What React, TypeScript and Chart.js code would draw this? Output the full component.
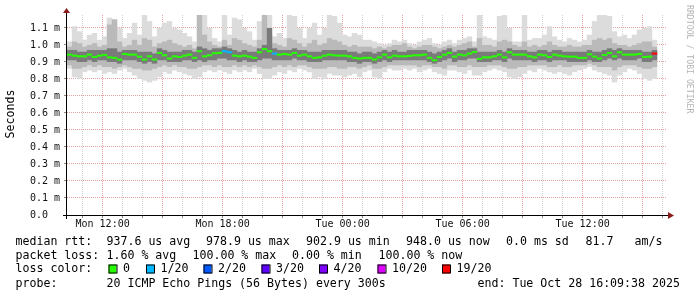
import React, { useEffect, useRef } from 'react';
import { Chart, registerables } from 'chart.js';

Chart.register(...registerables);

// ---- time axis (hours counted from Mon 00:00) ----
const START_HOUR = 10.22;
const SPAN_HOURS = 30;
const STEP_HOURS = 0.25;
const GRID_HOURS = [11, 12, 13, 14, 15, 16, 17, 18, 19, 20, 21, 22, 23, 24, 25, 26, 27, 28, 29, 30, 31, 32, 33, 34, 35, 36, 37, 38, 39, 40];
const X_LABEL_HOURS = [12, 18, 24, 30, 36];
const X_TICK_LABELS = ['Mon 12:00', 'Mon 18:00', 'Tue 00:00', 'Tue 06:00', 'Tue 12:00'];

// ---- value axis (milliseconds) ----
const Y_MAX = 1.176;
const Y_TICKS = [0, 0.1, 0.2, 0.3, 0.4, 0.5, 0.6, 0.7, 0.8, 0.9, 1.0, 1.1];

// ---- median rtt (ms), one value per 15 minutes ----
const MEDIAN = [
  0.943, 0.937, 0.933, 0.933, 0.943, 0.929, 0.937, 0.941, 0.927, 0.924, 0.914, 0.947, 0.943, 0.943, 0.931, 0.914, 0.933, 0.914, 0.953, 0.939,
  0.920, 0.933, 0.929, 0.937, 0.943, 0.924, 0.963, 0.933, 0.939, 0.951,
  0.953, 0.963, 0.957, 0.937, 0.933, 0.937, 0.931, 0.924, 0.957, 0.976, 0.963, 0.949, 0.943, 0.947, 0.943, 0.953, 0.937, 0.943, 0.933, 0.924,
  0.927, 0.937, 0.943, 0.939, 0.937, 0.937, 0.933, 0.924, 0.920, 0.924,
  0.924, 0.914, 0.927, 0.943, 0.927, 0.937, 0.933, 0.933, 0.935, 0.939, 0.939, 0.943, 0.924, 0.910, 0.929, 0.943, 0.953, 0.931, 0.943, 0.939,
  0.949, 0.959, 0.918, 0.927, 0.927, 0.933, 0.943, 0.927, 0.957, 0.943,
  0.943, 0.943, 0.933, 0.927, 0.943, 0.939, 0.929, 0.943, 0.937, 0.933, 0.931, 0.931, 0.924, 0.924, 0.945, 0.931, 0.920, 0.941, 0.953, 0.933,
  0.957, 0.943, 0.943, 0.943, 0.947, 0.929, 0.931, 0.949,
];

// [step index, lost pings out of 20]
const LOSS = [[31, 1], [32, 1], [41, 1], [117, 20]];

// ---- smoke (ms) ----
const OUTER_HI = [
  1.02, 1.11, 1.08, 1.03, 1.06, 1.07, 1.03, 1.05, 1.16, 1.15, 1.10, 1.04, 1.07, 1.13, 1.06, 1.18, 1.14, 1.05, 1.10, 1.13,
  1.14, 1.10, 1.09, 1.07, 1.05, 1.02, 1.18, 1.18, 1.10, 1.04,
  1.02, 1.18, 1.06, 1.16, 1.15, 1.10, 1.08, 1.03, 1.14, 1.18, 1.18, 1.05, 1.07, 1.04, 1.18, 1.17, 1.10, 1.04, 1.10, 1.13,
  1.06, 1.10, 1.18, 1.17, 1.13, 1.06, 1.05, 1.07, 1.06, 1.03,
  1.03, 1.02, 1.01, 1.00, 1.01, 1.03, 1.02, 1.03, 1.01, 1.00, 1.02, 1.03, 1.04, 1.01, 1.00, 1.02, 1.03, 1.01, 1.03, 1.04,
  1.05, 1.02, 1.18, 1.05, 1.04, 1.03, 1.17, 1.18, 1.10, 1.02,
  1.02, 1.18, 1.03, 1.04, 1.04, 1.06, 1.11, 1.05, 1.03, 1.02, 1.04, 1.03, 1.02, 1.03, 1.06, 1.14, 1.18, 1.18, 1.17, 1.08,
  1.05, 1.06, 1.04, 1.06, 1.09, 1.10, 1.11, 1.03,
];
const OUTER_LO = [
  0.86, 0.81, 0.80, 0.84, 0.85, 0.84, 0.85, 0.83, 0.84, 0.83, 0.85, 0.86, 0.84, 0.82, 0.80, 0.79, 0.78, 0.79, 0.81, 0.84,
  0.83, 0.85, 0.84, 0.83, 0.82, 0.80, 0.81, 0.84, 0.85, 0.84,
  0.85, 0.84, 0.83, 0.85, 0.84, 0.85, 0.84, 0.86, 0.83, 0.80, 0.80, 0.82, 0.84, 0.83, 0.85, 0.84, 0.86, 0.85, 0.84, 0.80,
  0.81, 0.80, 0.83, 0.82, 0.82, 0.81, 0.82, 0.83, 0.81, 0.84,
  0.85, 0.81, 0.80, 0.84, 0.86, 0.85, 0.85, 0.86, 0.85, 0.86, 0.84, 0.85, 0.86, 0.84, 0.83, 0.82, 0.85, 0.85, 0.84, 0.83,
  0.85, 0.82, 0.82, 0.84, 0.85, 0.86, 0.85, 0.84, 0.81, 0.80,
  0.81, 0.83, 0.85, 0.84, 0.86, 0.85, 0.84, 0.83, 0.84, 0.83, 0.82, 0.84, 0.85, 0.86, 0.87, 0.85, 0.84, 0.83, 0.82, 0.78,
  0.82, 0.84, 0.86, 0.85, 0.83, 0.80, 0.79, 0.80,
];
const MID_HI = [
  0.99, 1.02, 1.01, 0.99, 1.00, 1.01, 0.99, 1.00, 1.12, 1.15, 1.02, 0.99, 1.00, 1.03, 1.00, 1.04, 1.03, 0.99, 1.01, 1.02,
  1.03, 1.01, 1.00, 0.99, 1.00, 0.98, 1.18, 1.06, 1.02, 1.00,
  0.99, 1.03, 1.00, 1.04, 1.03, 1.01, 1.00, 0.99, 1.03, 1.18, 1.06, 1.01, 1.00, 0.99, 1.04, 1.03, 1.01, 0.99, 1.01, 1.03,
  1.00, 1.01, 1.04, 1.03, 1.02, 1.00, 0.99, 1.00, 0.99, 0.99,
  0.99, 0.98, 0.99, 0.98, 0.99, 1.00, 1.00, 1.01, 0.99, 0.98, 0.99, 1.00, 1.00, 0.99, 0.98, 0.99, 1.00, 0.99, 1.00, 1.01,
  1.02, 0.99, 1.04, 1.00, 1.00, 0.99, 1.02, 1.03, 1.02, 1.00,
  0.99, 1.02, 0.99, 1.00, 0.99, 1.00, 1.02, 1.00, 0.99, 0.99, 1.00, 0.99, 0.99, 1.00, 1.00, 1.03, 1.04, 1.03, 1.04, 1.01,
  1.00, 1.00, 0.99, 1.00, 1.01, 1.02, 1.02, 0.99,
];
const MID_LO = [
  0.88, 0.86, 0.86, 0.87, 0.88, 0.87, 0.88, 0.87, 0.87, 0.86, 0.87, 0.88, 0.87, 0.86, 0.86, 0.85, 0.85, 0.86, 0.87, 0.88,
  0.87, 0.88, 0.87, 0.87, 0.86, 0.86, 0.87, 0.88, 0.88, 0.87,
  0.88, 0.87, 0.87, 0.88, 0.87, 0.88, 0.87, 0.88, 0.87, 0.86, 0.86, 0.87, 0.88, 0.87, 0.88, 0.87, 0.88, 0.88, 0.87, 0.86,
  0.86, 0.86, 0.87, 0.87, 0.86, 0.86, 0.87, 0.87, 0.86, 0.87,
  0.88, 0.86, 0.86, 0.87, 0.88, 0.88, 0.88, 0.88, 0.88, 0.88, 0.87, 0.88, 0.88, 0.87, 0.87, 0.86, 0.88, 0.88, 0.87, 0.87,
  0.88, 0.87, 0.87, 0.87, 0.88, 0.88, 0.88, 0.87, 0.86, 0.86,
  0.87, 0.87, 0.88, 0.88, 0.88, 0.88, 0.87, 0.87, 0.88, 0.87, 0.87, 0.88, 0.88, 0.88, 0.89, 0.88, 0.87, 0.87, 0.87, 0.85,
  0.87, 0.88, 0.88, 0.88, 0.87, 0.86, 0.86, 0.87,
];
const CORE_HI = [
  0.97, 0.97, 0.96, 0.96, 0.97, 0.97, 0.97, 0.97, 0.98, 0.98, 0.96, 0.97, 0.97, 0.97, 0.96, 0.96, 0.96, 0.95, 0.98, 0.97,
  0.96, 0.96, 0.96, 0.97, 0.97, 0.96, 0.99, 0.98, 0.97, 0.98,
  0.98, 0.99, 0.98, 0.97, 0.96, 0.97, 0.96, 0.96, 0.98, 1.00, 1.10, 0.98, 0.97, 0.97, 0.97, 0.98, 0.97, 0.97, 0.96, 0.96,
  0.96, 0.97, 0.97, 0.97, 0.97, 0.97, 0.96, 0.96, 0.95, 0.96,
  0.96, 0.95, 0.96, 0.97, 0.96, 0.97, 0.96, 0.96, 0.97, 0.97, 0.97, 0.97, 0.96, 0.95, 0.96, 0.97, 0.98, 0.96, 0.97, 0.97,
  0.98, 0.98, 0.96, 0.96, 0.96, 0.96, 0.97, 0.96, 0.98, 0.97,
  0.97, 0.97, 0.96, 0.96, 0.97, 0.97, 0.96, 0.97, 0.97, 0.96, 0.96, 0.96, 0.96, 0.96, 0.97, 0.96, 0.96, 0.97, 0.98, 0.97,
  0.98, 0.97, 0.97, 0.97, 0.97, 0.96, 0.96, 0.97,
];
const CORE_LO = [
  0.91, 0.91, 0.90, 0.90, 0.91, 0.90, 0.91, 0.91, 0.90, 0.90, 0.89, 0.91, 0.91, 0.91, 0.90, 0.89, 0.90, 0.89, 0.91, 0.91,
  0.90, 0.90, 0.90, 0.91, 0.91, 0.90, 0.91, 0.90, 0.91, 0.91,
  0.92, 0.92, 0.91, 0.91, 0.90, 0.91, 0.90, 0.90, 0.91, 0.92, 0.92, 0.91, 0.91, 0.91, 0.91, 0.92, 0.91, 0.91, 0.90, 0.90,
  0.90, 0.91, 0.91, 0.91, 0.91, 0.91, 0.90, 0.90, 0.89, 0.90,
  0.90, 0.89, 0.90, 0.91, 0.90, 0.91, 0.91, 0.91, 0.91, 0.91, 0.91, 0.91, 0.90, 0.89, 0.90, 0.91, 0.92, 0.90, 0.91, 0.91,
  0.92, 0.92, 0.90, 0.90, 0.90, 0.91, 0.91, 0.90, 0.92, 0.91,
  0.91, 0.91, 0.91, 0.90, 0.91, 0.91, 0.90, 0.91, 0.91, 0.91, 0.90, 0.90, 0.90, 0.90, 0.91, 0.90, 0.90, 0.91, 0.92, 0.91,
  0.92, 0.91, 0.91, 0.91, 0.92, 0.90, 0.90, 0.91,
];

// ---- legend ----
const LOSS_LEVELS = [0, 1, 2, 3, 4, 10, 19];
const LOSS_LABELS = ['0', '1/20', '2/20', '3/20', '4/20', '10/20', '19/20'];
const LOSS_COLORS = ['#26ff00', '#00b8ff', '#0059ff', '#5e00ff', '#7e00ff', '#dd00ff', '#ff0000'];
const RTT_STATS = ['937.6 us avg', '978.9 us max', '902.9 us min', '948.0 us now', '0.0 ms sd', '81.7', 'am/s'];
const LOSS_STATS = ['1.60 % avg', '100.00 % max', '0.00 % min', '100.00 % now'];
const PROBE_TEXT = '20 ICMP Echo Pings (56 Bytes) every 300s';
const END_TEXT = 'end: Tue Oct 28 16:09:38 2025';
const Y_TITLE = 'Seconds';
const WATERMARK = 'RRDTOOL / TOBI OETIKER';

const MONO = '"DejaVu Sans Mono", monospace';

function lossColor(lost: number): string {
  let c = LOSS_COLORS[0];
  LOSS_LEVELS.forEach((lv, k) => {
    if (lost >= lv) c = LOSS_COLORS[k];
  });
  return c;
}

function lossAt(i: number): number {
  const e = LOSS.find((p) => p[0] === i);
  return e ? e[1] : 0;
}

const extrasPlugin = {
  id: 'rrdExtras',
  afterDraw(chart: any) {
    const { ctx, chartArea: a } = chart;
    ctx.save();
    // axes
    ctx.strokeStyle = '#000';
    ctx.lineWidth = 1;
    ctx.beginPath();
    ctx.moveTo(a.left - 0.5, a.top - 3);
    ctx.lineTo(a.left - 0.5, a.bottom + 4);
    ctx.moveTo(a.left - 4, a.bottom + 0.5);
    ctx.lineTo(a.right + 3, a.bottom + 0.5);
    ctx.stroke();
    // arrows
    ctx.fillStyle = '#8b1c1c';
    ctx.beginPath();
    ctx.moveTo(a.left - 4, a.top - 2);
    ctx.lineTo(a.left + 3, a.top - 2);
    ctx.lineTo(a.left - 0.5, a.top - 7);
    ctx.closePath();
    ctx.fill();
    ctx.beginPath();
    ctx.moveTo(a.right + 1, a.bottom - 3);
    ctx.lineTo(a.right + 1, a.bottom + 4);
    ctx.lineTo(a.right + 7, a.bottom + 0.5);
    ctx.closePath();
    ctx.fill();

    // y title
    ctx.fillStyle = '#000';
    ctx.font = `11.6px ${MONO}`;
    ctx.save();
    ctx.translate(11, 114);
    ctx.rotate(-Math.PI / 2);
    ctx.textAlign = 'center';
    ctx.textBaseline = 'middle';
    ctx.fillText(Y_TITLE, 0, 0);
    ctx.restore();

    // watermark
    ctx.save();
    ctx.fillStyle = '#b4b4b4';
    ctx.font = `8.2px ${MONO}`;
    ctx.translate(689, 5);
    ctx.rotate(Math.PI / 2);
    ctx.textAlign = 'left';
    ctx.textBaseline = 'middle';
    ctx.fillText(WATERMARK, 0, 0);
    ctx.restore();

    // legend
    ctx.fillStyle = '#000';
    ctx.font = `11.6px ${MONO}`;
    ctx.textAlign = 'left';
    ctx.textBaseline = 'middle';
    const r1 = 241.5, r2 = 255.5, r3 = 269, r4 = 283.5;
    ctx.fillText('median rtt:', 15.5, r1);
    const rttX = [106.5, 206, 306, 406, 506, 585.5, 634.5];
    RTT_STATS.forEach((t, k) => ctx.fillText(t, rttX[k], r1));
    ctx.fillText('packet loss:', 15.5, r2);
    const lossX = [106.5, 192.5, 292, 378.5];
    LOSS_STATS.forEach((t, k) => ctx.fillText(t, lossX[k], r2));
    ctx.fillText('loss color:', 15.5, r3);
    const swX = [108.5, 146, 203.5, 261.5, 319, 377.5, 442];
    LOSS_LABELS.forEach((t, k) => {
      const x = swX[k];
      ctx.fillStyle = LOSS_COLORS[k];
      ctx.fillRect(x, r3 - 4.5, 8, 9);
      ctx.strokeStyle = '#000';
      ctx.strokeRect(x + 0.5, r3 - 4, 8, 8);
      ctx.fillStyle = '#000';
      ctx.fillText(t, x + 14.5, r3);
    });
    ctx.fillText('probe:', 15.5, r4);
    ctx.fillText(PROBE_TEXT, 106.5, r4);
    ctx.fillText(END_TEXT, 477.5, r4);
    ctx.restore();
  },
};

export default function App() {
  const ref = useRef<HTMLCanvasElement | null>(null);

  useEffect(() => {
    if (!ref.current) return;
    const times = MEDIAN.map((_, i) => START_HOUR + STEP_HOURS * (i + 0.5));
    const band = (lo: number[], hi: number[]) => lo.map((l, i) => ({ x: times[i], y: [l, hi[i]] }));
    const common = {
      type: 'bar' as const,
      grouped: false,
      barPercentage: 1.08,
      categoryPercentage: 1,
      borderWidth: 0,
    };

    const chart = new Chart(ref.current, {
      type: 'bar',
      data: {
        datasets: [
          {
            ...common,
            label: 'median rtt',
            data: MEDIAN.map((m, i) => ({ x: times[i], y: [m - 0.006, m + 0.006] })),
            backgroundColor: MEDIAN.map((_, i) => lossColor(lossAt(i))),
            order: 0,
          } as any,
          { ...common, label: 'core', data: band(CORE_LO, CORE_HI), backgroundColor: '#7a7a7a', order: 1 } as any,
          { ...common, label: 'mid', data: band(MID_LO, MID_HI), backgroundColor: '#bababa', order: 2 } as any,
          { ...common, label: 'outer', data: band(OUTER_LO, OUTER_HI), backgroundColor: '#dcdcdc', order: 3 } as any,
        ],
      },
      options: {
        responsive: false,
        animation: false,
        devicePixelRatio: 1,
        layout: { padding: { left: 30, top: 15, right: 30, bottom: 0 } },
        plugins: { legend: { display: false }, tooltip: { enabled: false } },
        scales: {
          x: {
            type: 'linear',
            offset: false,
            min: START_HOUR,
            max: START_HOUR + SPAN_HOURS,
            afterBuildTicks: (s: any) => {
              s.ticks = GRID_HOURS.map((v) => ({ value: v }));
            },
            afterFit: (s: any) => {
              s.height = 82;
            },
            border: { display: false, dash: [1, 1] },
            grid: {
              offset: false,
              color: (c: any) => (c.tick && c.tick.value % 3 === 0 ? '#e8a0a0' : '#cfcfcf'),
              tickLength: 3,
              tickColor: '#888',
            },
            ticks: {
              autoSkip: false,
              maxRotation: 0,
              padding: 0,
              color: '#111',
              font: { family: MONO, size: 10 },
              callback: (v: any) => {
                const k = X_LABEL_HOURS.indexOf(Number(v));
                return k >= 0 ? X_TICK_LABELS[k] : '';
              },
            },
          },
          y: {
            type: 'linear',
            min: 0,
            max: Y_MAX,
            afterBuildTicks: (s: any) => {
              s.ticks = Y_TICKS.map((v) => ({ value: v }));
            },
            afterFit: (s: any) => {
              s.width = 37;
            },
            border: { display: false, dash: [1, 1] },
            grid: {
              color: '#e8a0a0',
              tickLength: 3,
              tickColor: '#888',
            },
            ticks: {
              crossAlign: 'far',
              color: '#111',
              font: { family: MONO, size: 10 },
              callback: (v: any) => (Number(v) === 0 ? '0.0' : `${Number(v).toFixed(1)} m`),
            },
          },
        },
      },
      plugins: [extrasPlugin],
    } as any);

    return () => chart.destroy();
  }, []);

  return (
    <div style={{ position: 'fixed', left: 0, top: 0, width: 697, height: 297, background: '#fff' }}>
      <canvas ref={ref} width={697} height={297} style={{ display: 'block', width: 697, height: 297 }} />
    </div>
  );
}
